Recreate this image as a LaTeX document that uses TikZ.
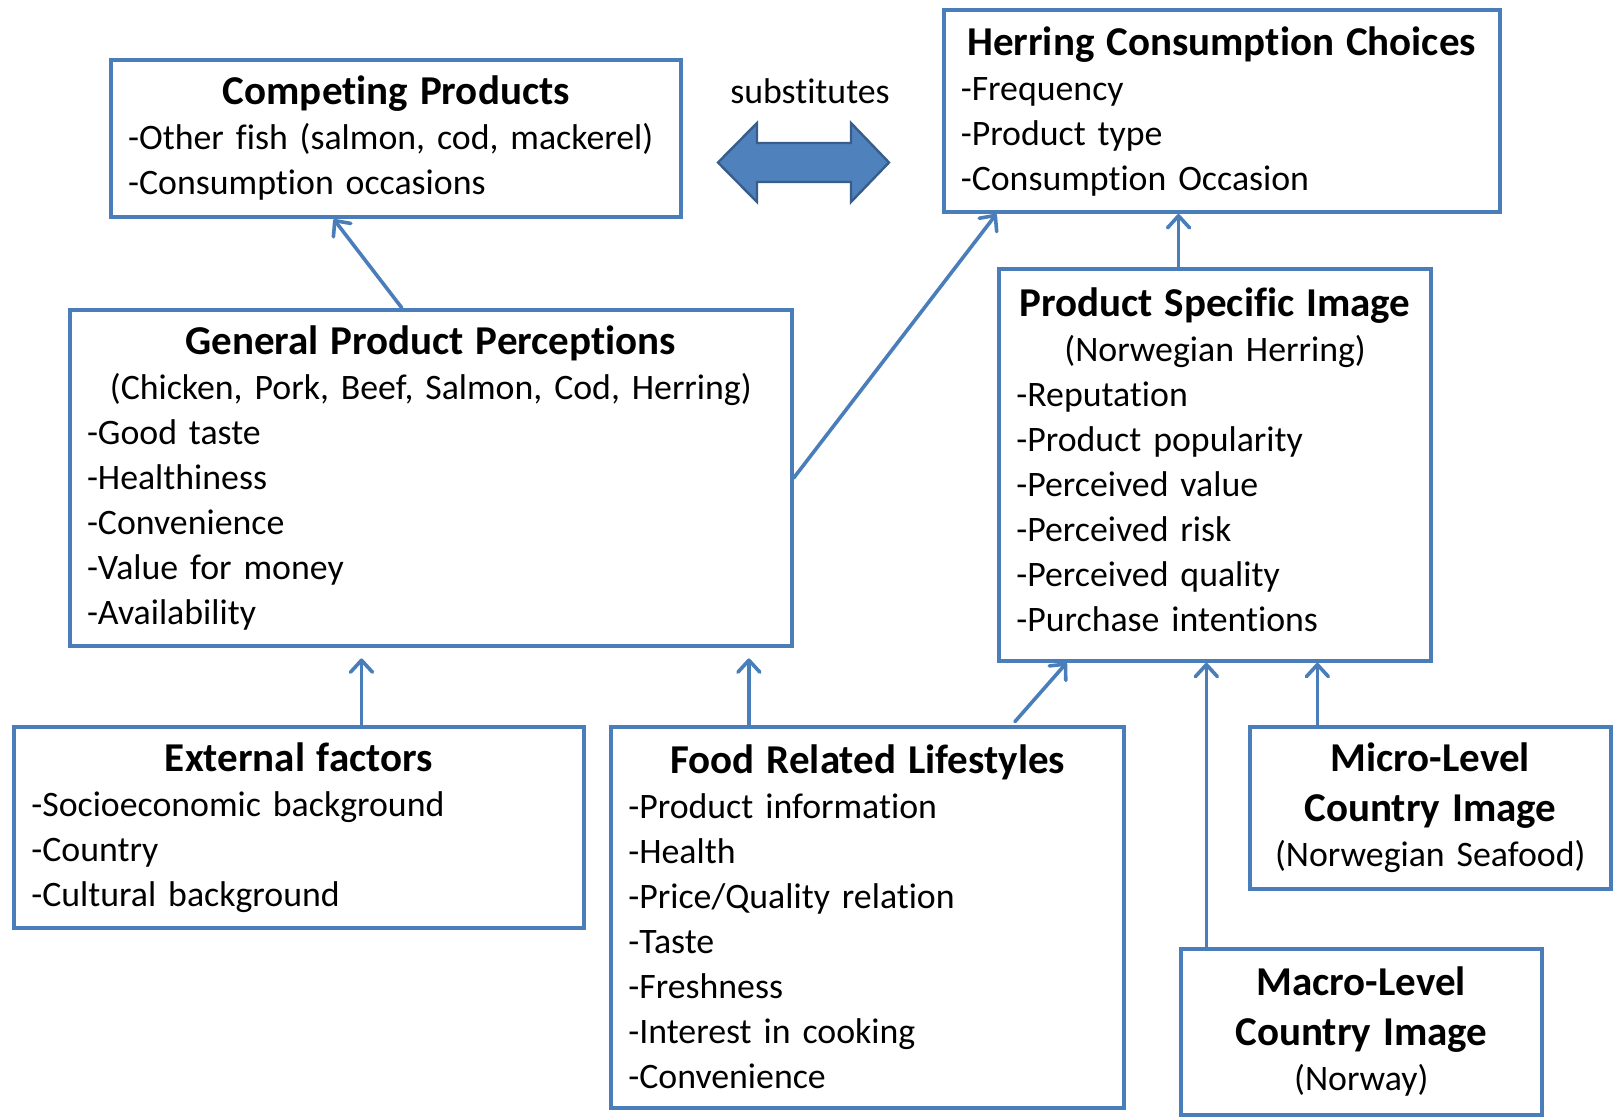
\documentclass[tikz,border=0pt]{standalone}
\usepackage{fontspec}
\setmainfont{Carlito}[Ligatures=NoCommon]
\usetikzlibrary{calc}
\usetikzlibrary{arrows.meta}
\definecolor{boxblue}{HTML}{4A7EBB}
\definecolor{arrowfill}{HTML}{4F81BD}
\definecolor{arrowedge}{HTML}{385D8A}
\hyphenpenalty=10000
\newcommand{\boxtitle}{\fontsize{20.5}{25}\selectfont\bfseries}
\tikzset{%
  mybox/.style={draw=boxblue, line width=2pt, anchor=north west, align=left,
    inner xsep=8.5pt, inner ysep=0pt, font=\fontsize{17.9}{22.5}\selectfont},
  myedge/.style={draw=boxblue, line width=1.8pt, line cap=round,
    -{Straight Barb[length=6pt,width=11pt,round]}}
}

\begin{document}
\begin{tikzpicture}[x=1pt,y=-1pt]
  \useasboundingbox (0,0) rectangle (807,558);
  \node[mybox, text width=268.1pt, minimum height=78.8pt] (cp) at (54.6,28.8)
    {{\centering\boxtitle Competing Products\par}
     -Other fish (salmon, cod, mackerel)\\-Consumption occasions};
  \node[mybox, text width=260.9pt, minimum height=100.9pt] (hcc) at (470.9,4.1)
    {{\centering\boxtitle Herring Consumption Choices\par}
     -Frequency\\-Product type\\-Consumption Occasion};
  \node[mybox, text width=343.8pt, minimum height=168.3pt] (gpp) at (34,153.9)
    {{\centering\boxtitle General Product Perceptions\par}
     {\centering(Chicken, Pork, Beef, Salmon, Cod, Herring)\par}
     -Good taste\\-Healthiness\\-Convenience\\-Value for money\\-Availability};
  \node[mybox, text width=198.7pt, minimum height=196.1pt] (psi) at (498.7,133.3)
    {{\centering\boxtitle Product Specific Image\par}
     {\centering(Norwegian Herring)\par}
     -Reputation\\-Product popularity\\-Perceived value\\-Perceived risk\\
     -Perceived quality\\-Purchase intentions\par\nointerlineskip\vbox to 5pt{}};
  \node[mybox, text width=267.6pt, minimum height=100.9pt] (ext) at (6.2,362.3)
    {{\centering\boxtitle External factors\par}
     -Socioeconomic background\\-Country\\-Cultural background};
  \node[mybox, text width=239.3pt, minimum height=190.5pt] (frl) at (304.7,362.3)
    {{\centering\boxtitle Food Related Lifestyles\par}
     -Product information\\-Health\\-Price/Quality relation\\-Taste\\
     -Freshness\\-Interest in cooking\\-Convenience};
  \node[mybox, text width=163.7pt, minimum height=81.4pt] (mic) at (623.8,362.3)
    {{\centering\boxtitle Micro-Level\\Country Image\par}
     {\centering(Norwegian Seafood)\par}};
  \node[mybox, text width=163.7pt, minimum height=82.9pt] (mac) at (589.3,473.5)
    {{\centering\boxtitle Macro-Level\\Country Image\par}
     {\centering(Norway)\par}};

  % substitutes
  \node[font=\fontsize{17.9}{22.5}\selectfont] (sub) at (405,45.5) {substitutes};
  \draw[fill=arrowfill, draw=arrowedge, line width=1.2pt]
    (359,81.25) -- (378.5,61.5) -- (378.5,71.5) -- (425.5,71.5) -- (425.5,61.5)
    -- (444.5,81.25) -- (425.5,101) -- (425.5,91) -- (378.5,91) -- (378.5,101) -- cycle;

  % links
  \coordinate (psiA) at ($(psi.north west)!0.416!(psi.north east)$);
  \coordinate (extA) at ($(ext.north west)!0.609!(ext.north east)$);
  \coordinate (frlA) at ($(frl.north west)!0.27!(frl.north east)$);
  \coordinate (macA) at ($(mac.north west)!0.076!(mac.north east)$);
  \coordinate (micA) at ($(mic.north west)!0.191!(mic.north east)$);
  \draw[myedge] ($(gpp.north west)!0.46!(gpp.north east)$) -- ($(cp.south west)!0.391!(cp.south east)$);
  \draw[myedge] (gpp.east) -- ($(hcc.south west)!0.0975!(hcc.south east)$);
  \draw[myedge] (psiA) -- (psiA |- hcc.south);
  \draw[myedge, shorten >=5pt] (extA) -- (extA |- gpp.south);
  \draw[myedge, shorten >=5pt] (frlA) -- (frlA |- gpp.south);
  \draw[myedge] ([yshift=1.5pt]$(frl.north west)!0.785!(frl.north east)$) -- ($(psi.south west)!0.159!(psi.south east)$);
  \draw[myedge] (macA) -- (macA |- psi.south);
  \draw[myedge] (micA) -- (micA |- psi.south);
\end{tikzpicture}
\end{document}
